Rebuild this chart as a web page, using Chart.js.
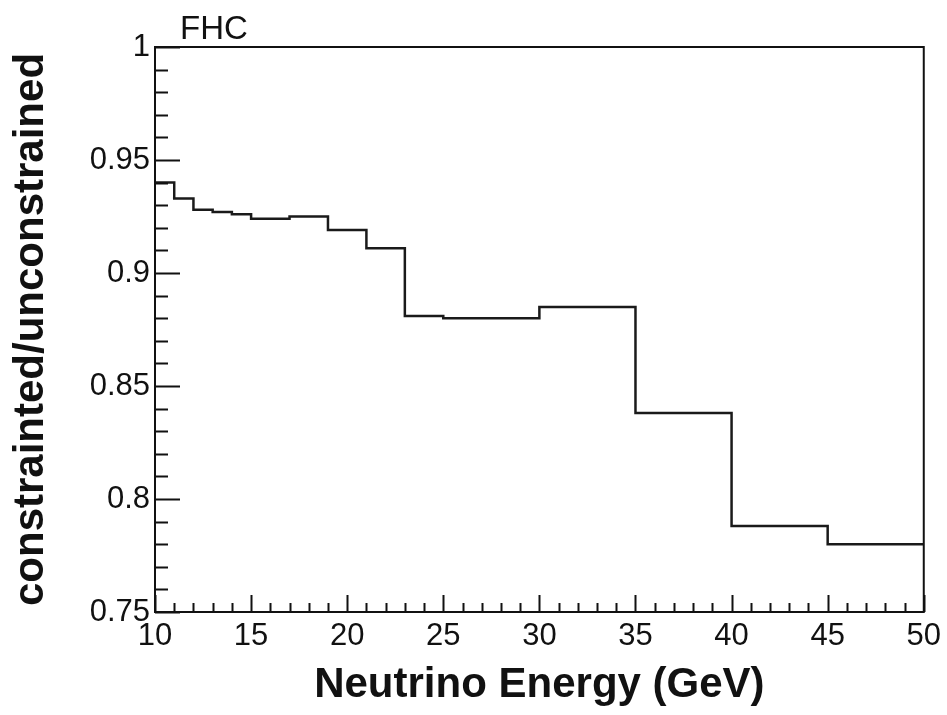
<!DOCTYPE html>
<html>
<head>
<meta charset="utf-8">
<script src="https://cdn.jsdelivr.net/npm/chart.js@4/dist/chart.umd.min.js"></script>
<style>
  html, body { margin: 0; padding: 0; background: #fff; }
  #wrap { width: 947px; height: 715px; }
</style>
</head>
<body>
<div id="wrap"><canvas id="myChart" width="947" height="715"></canvas></div>
<script>
    // 구간 경계 (GeV) 와 각 구간의 비율 값
    const binEdges = [10, 11, 12, 13, 14, 15, 17, 19, 21, 23, 25, 30, 35, 40, 45, 50];
    const ratioValues = [0.940, 0.933, 0.928, 0.927, 0.926, 0.924, 0.925, 0.919, 0.911, 0.881, 0.880, 0.885, 0.838, 0.788, 0.780];
    const xTicks = [10, 15, 20, 25, 30, 35, 40, 45, 50];
    const yTicks = [0.75, 0.8, 0.85, 0.9, 0.95, 1];
    const labelText = 'FHC';

    const FONT = "'Liberation Sans', Arial, Helvetica, sans-serif";

    // 계단형 히스토그램 점: 각 구간 시작점 + 마지막 경계
    const points = binEdges.map((e, i) => ({ x: e, y: ratioValues[Math.min(i, ratioValues.length - 1)] }));

    // 안쪽 방향 눈금 + 테두리 + FHC 라벨
    const rootFrame = {
        id: 'rootFrame',
        afterDraw(chart) {
            const { ctx, chartArea: a, scales: { x, y } } = chart;
            ctx.save();
            ctx.strokeStyle = '#111';
            ctx.lineWidth = 2;
            ctx.beginPath();
            for (let k = 0; k <= 40; k++) {
                const v = 10 + k;
                const px = Math.round(x.getPixelForValue(v)) + 0.5;
                const len = v % 5 === 0 ? 17 : 9;
                ctx.moveTo(px, a.bottom);
                ctx.lineTo(px, a.bottom - len);
            }
            for (let k = 0; k <= 25; k++) {
                const v = 0.75 + k * 0.01;
                const py = Math.round(y.getPixelForValue(v)) + 0.5;
                const len = k % 5 === 0 ? 25 : 13;
                ctx.moveTo(a.left, py);
                ctx.lineTo(a.left + len, py);
            }
            ctx.stroke();
            ctx.strokeRect(a.left, a.top, a.right - a.left, a.bottom - a.top);

            ctx.fillStyle = '#111';
            ctx.font = '33px ' + FONT;
            ctx.textBaseline = 'alphabetic';
            ctx.textAlign = 'left';
            ctx.fillText(labelText, a.left + 25, a.top - 8);
            ctx.restore();
        }
    };

    const ctx = document.getElementById('myChart').getContext('2d');
    const myChart = new Chart(ctx, {
        type: 'line',
        data: {
            datasets: [{
                data: points,
                stepped: true,
                borderColor: '#1a1a1a',
                borderWidth: 2.5,
                pointRadius: 0,
                fill: false
            }]
        },
        options: {
            responsive: false,
            animation: false,
            layout: { padding: { top: 47, right: 22, left: 0, bottom: 0 } },
            plugins: { legend: { display: false }, tooltip: { enabled: false } },
            scales: {
                x: {
                    type: 'linear',
                    min: 10,
                    max: 50,
                    afterBuildTicks: s => { s.ticks = xTicks.map(v => ({ value: v })); },
                    afterFit: s => { s.height = 103; },
                    grid: { display: false, drawTicks: false },
                    border: { display: false },
                    ticks: { color: '#111', font: { family: FONT, size: 31 }, padding: 6, maxRotation: 0, autoSkip: false },
                    title: {
                        display: true,
                        text: 'Neutrino Energy (GeV)',
                        color: '#111',
                        font: { family: FONT, size: 42, weight: 'bold' },
                        padding: { top: 0, bottom: 4 }
                    }
                },
                y: {
                    min: 0.75,
                    max: 1,
                    afterBuildTicks: s => { s.ticks = yTicks.map(v => ({ value: v })); },
                    afterFit: s => { s.width = 155; },
                    grid: { display: false, drawTicks: false },
                    border: { display: false },
                    ticks: {
                        color: '#111',
                        font: { family: FONT, size: 31 },
                        padding: 5,
                        autoSkip: false,
                        callback: v => String(Number(v.toFixed(2)))
                    },
                    title: {
                        display: true,
                        text: 'constrainted/unconstrained',
                        color: '#111',
                        font: { family: FONT, size: 42, weight: 'bold' },
                        padding: { top: 6, bottom: 0 }
                    }
                }
            }
        },
        plugins: [rootFrame]
    });
</script>
</body>
</html>
